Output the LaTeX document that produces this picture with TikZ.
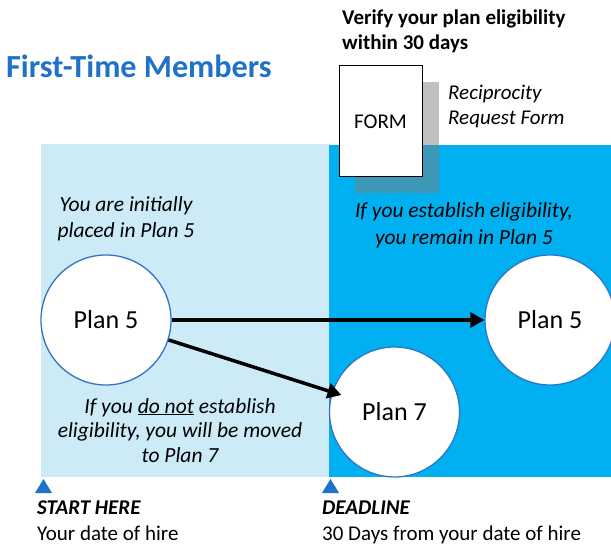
\documentclass[tikz,border=0pt]{standalone}
\usepackage{fontspec}
\setmainfont{Carlito}
\usetikzlibrary{arrows.meta}
\definecolor{lightbg}{HTML}{CCEBF6}
\definecolor{brightbg}{HTML}{00B0F0}
\definecolor{titleblue}{HTML}{1F72C8}
\definecolor{ringblue}{HTML}{2E75C6}
\definecolor{shadowgray}{HTML}{7F7F7F}
\begin{document}
\begin{tikzpicture}[x=1pt,y=-1pt,
  plan/.style={circle,draw=ringblue,line width=1.3pt,fill=white,minimum size=130pt,inner sep=0pt,font=\fontsize{26}{31}\selectfont},
  arr/.style={line width=3.5pt,-{Triangle[length=14pt,width=15pt]}},
  note/.style={inner sep=0pt,align=center,font=\fontsize{21.5}{26}\selectfont\itshape},
  plain/.style={inner sep=0pt,align=left,font=\fontsize{21}{26}\selectfont},
  marker/.style={fill=titleblue}]
\useasboundingbox (0,0) rectangle (611,545);
% backgrounds
\fill[lightbg] (41,144) rectangle (330,477);
\fill[brightbg] (329,145) rectangle (611,477);
% title
\node[anchor=base west,inner sep=0pt,text=titleblue,font=\fontsize{32.2}{38}\selectfont\bfseries] (title) at (6,78) {First-Time Members};
% header
\node[plain,anchor=base west,font=\fontsize{21}{25}\selectfont\bfseries] (verify) at (342,50) {Verify your plan eligibility\\within 30 days};
% form
\fill[shadowgray,opacity=0.5] (355,82) rectangle (439,193);
\node[draw=black,line width=1pt,fill=white,minimum width=83pt,minimum height=111pt,inner sep=0pt,font=\fontsize{21}{25}\selectfont] (form) at (380.5,121.5) {FORM};
\node[plain,anchor=base west,font=\fontsize{21}{25}\selectfont\itshape] (recip) at (448,125) {Reciprocity\\Request Form};
% notes
\node[note,anchor=base] (initial) at (126,238) {You are initially\\placed in Plan 5};
\node[note,anchor=base,font=\fontsize{21.5}{27}\selectfont\itshape] (remain) at (464,245) {If you establish eligibility,\\you remain in Plan 5};
\node[note,anchor=base,font=\fontsize{21.5}{25}\selectfont\itshape] (moved) at (180,463) {If you \underline{do not} establish\\eligibility, you will be moved\\to Plan 7};
% plans
\node[plan] (p5a) at (106,320) {Plan 5};
\node[plan] (p5b) at (550,320) {Plan 5};
\node[plan] (p7) at (394.5,412) {Plan 7};
% arrows
\draw[arr] (p5a) -- (p5b);
\draw[arr,shorten >=-10pt] (p5a) -- (p7);
% timeline markers
\fill[marker] (35,493) -- (52,493) -- (43.5,479) -- cycle;
\fill[marker] (322,493) -- (339,493) -- (330.5,479) -- cycle;
\node[plain,anchor=base west] (start) at (37,540) {\textbf{\textit{START HERE}}\\Your date of hire};
\node[plain,anchor=base west] (deadline) at (322,540) {\textbf{\textit{DEADLINE}}\\30 Days from your date of hire};
\end{tikzpicture}
\end{document}
